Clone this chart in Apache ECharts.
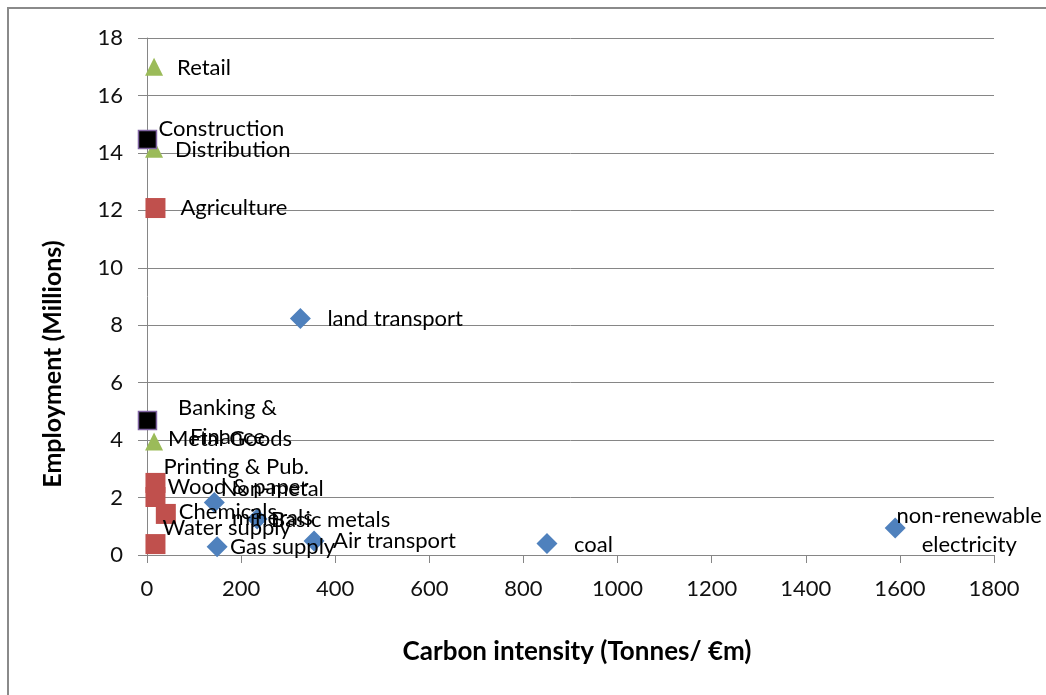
<!DOCTYPE html>
<html>
<head>
<meta charset="utf-8">
<script src="https://cdn.jsdelivr.net/npm/echarts@6/dist/echarts.min.js"></script>
<style>
html,body{margin:0;padding:0;background:#fff;}
#chart{width:1046px;height:695px;}
</style>
</head>
<body>
<div id="chart"></div>
<script>
// ---- data ----
const xTicks = [0, 200, 400, 600, 800, 1000, 1200, 1400, 1600, 1800];
const yTicks = [0, 2, 4, 6, 8, 10, 12, 14, 16, 18];

const blueNames = ['land transport', 'Non-metal\nminerals', 'Basic metals', 'Gas supply', 'Air transport', 'coal', 'non-renewable\nelectricity'];
const blueX = [326, 143, 234, 149, 355, 850, 1590];
const blueY = [8.23, 1.83, 1.25, 0.29, 0.49, 0.40, 0.94];

const redNames = ['Agriculture', 'Printing & Pub.', 'Wood & paper', 'Chemicals', 'Water supply'];
const redX = [18, 18, 18, 40, 18];
const redY = [12.08, 2.51, 2.02, 1.43, 0.38];

const greenNames = ['Retail', 'Distribution', 'Metal Goods'];
const greenX = [15, 15, 15];
const greenY = [17.0, 14.14, 3.95];

const blackNames = ['Construction', 'Banking &\nFinance'];
const blackX = [1, 1];
const blackY = [14.47, 4.68];

const xTitle = 'Carbon intensity (Tonnes/ €m)';
const yTitle = 'Employment (Millions)';

// ---- label styling (placement relative to each marker) ----
const labelPlace = {
  'land transport': [27, 0, 'left'],
  'Non-metal\nminerals': [58, 1, 'center'],
  'Basic metals': [14, 1, 'left'],
  'Gas supply': [13, 0, 'left'],
  'Air transport': [19, 0, 'left'],
  'coal': [27, 1, 'left'],
  'non-renewable\nelectricity': [74, 2, 'center'],
  'Agriculture': [25, 0, 'left'],
  'Printing & Pub.': [8, -16, 'left'],
  'Wood & paper': [12, -10, 'left'],
  'Chemicals': [13, -2, 'left'],
  'Water supply': [7, -16, 'left'],
  'Retail': [23, 1, 'left'],
  'Distribution': [21, 1, 'left'],
  'Metal Goods': [14, -3, 'left'],
  'Construction': [11, -10, 'left'],
  'Banking &\nFinance': [80, 2, 'center']
};

const FONT = 'Lato, "Open Sans", "Noto Sans", sans-serif';

function build(names, xs, ys) {
  return names.map((n, i) => {
    const p = labelPlace[n] || [10, 0, 'left'];
    return {
      name: n,
      value: [xs[i], ys[i]],
      label: { offset: [p[0], p[1]], align: p[2] }
    };
  });
}

const labelBase = {
  show: true,
  position: 'inside',
  verticalAlign: 'middle',
  formatter: p => p.name,
  color: '#000',
  fontFamily: FONT,
  fontSize: 22,
  lineHeight: 29
};

const chart = echarts.init(document.getElementById('chart'), null, {renderer: 'canvas'});

chart.setOption({
  animation: false,
  backgroundColor: '#fff',
  grid: { left: 147, right: 52, top: 38, bottom: 140, containLabel: false },
  xAxis: {
    type: 'value', min: xTicks[0], max: xTicks[xTicks.length - 1], interval: 200,
    axisLine: { show: true, onZero: false, lineStyle: { color: '#868686', width: 1 } },
    axisTick: { show: true, length: 8, lineStyle: { color: '#868686' } },
    splitLine: { show: false },
    axisLabel: { color: '#111', fontFamily: FONT, fontSize: 22, margin: 23, formatter: v => String(v) }
  },
  yAxis: {
    type: 'value', min: yTicks[0], max: yTicks[yTicks.length - 1], interval: 2,
    axisLine: { show: true, onZero: false, lineStyle: { color: '#868686', width: 1 } },
    axisTick: { show: true, length: 9, lineStyle: { color: '#868686' } },
    splitLine: { show: true, lineStyle: { color: '#868686', width: 1 } },
    axisLabel: { color: '#111', fontFamily: FONT, fontSize: 22, margin: 24, formatter: v => String(v) }
  },
  graphic: [
    { type: 'rect', shape: { x: 8, y: 8, width: 1100, height: 760 }, style: { fill: 'none', stroke: '#8a8a8a', lineWidth: 2 }, silent: true, z: -1 },
    { type: 'text', x: 577, y: 652, style: { text: xTitle, fontFamily: FONT, fontWeight: 'bold', fontSize: 26, fill: '#000', textAlign: 'center', textVerticalAlign: 'middle' } },
    { type: 'text', x: 53, y: 364, rotation: Math.PI / 2, style: { text: yTitle, fontFamily: FONT, fontWeight: 'bold', fontSize: 25, fill: '#000', textAlign: 'center', textVerticalAlign: 'middle' } }
  ],
  series: [
    { name: 'Series 1', type: 'scatter', symbol: 'diamond', symbolSize: 21,
      itemStyle: { color: '#4F81BD', opacity: 1 }, label: labelBase, z: 2,
      data: build(blueNames, blueX, blueY) },
    { name: 'Series 2', type: 'scatter', symbol: 'rect', symbolSize: 20,
      itemStyle: { color: '#C0504D', opacity: 1 }, label: labelBase, z: 3,
      data: build(redNames, redX, redY) },
    { name: 'Series 3', type: 'scatter', symbol: 'triangle', symbolSize: [18, 18],
      itemStyle: { color: '#9BBB59', opacity: 1 }, label: labelBase, z: 4,
      data: build(greenNames, greenX, greenY) },
    { name: 'Series 4', type: 'scatter', symbol: 'rect', symbolSize: 18,
      itemStyle: { color: '#000000', borderColor: '#8064A2', borderWidth: 1.5, opacity: 1 }, label: labelBase, z: 5,
      data: build(blackNames, blackX, blackY) }
  ]
});
</script>
</body>
</html>
